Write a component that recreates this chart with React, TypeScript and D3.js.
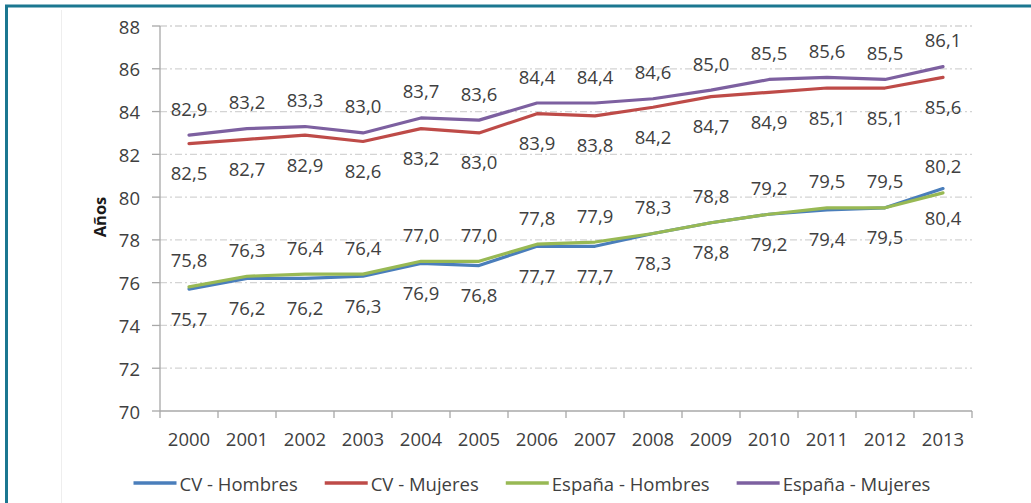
import React from "react";
import * as d3 from "d3";

// Esperanza de vida al nacer, Comunitat Valenciana vs. España (2000-2013)
const years = [
  "2000", "2001", "2002", "2003", "2004", "2005", "2006",
  "2007", "2008", "2009", "2010", "2011", "2012", "2013",
];

const cvHombres = [75.7, 76.2, 76.2, 76.3, 76.9, 76.8, 77.7, 77.7, 78.3, 78.8, 79.2, 79.4, 79.5, 80.4];
const cvMujeres = [82.5, 82.7, 82.9, 82.6, 83.2, 83.0, 83.9, 83.8, 84.2, 84.7, 84.9, 85.1, 85.1, 85.6];
const espanaHombres = [75.8, 76.3, 76.4, 76.4, 77.0, 77.0, 77.8, 77.9, 78.3, 78.8, 79.2, 79.5, 79.5, 80.2];
const espanaMujeres = [82.9, 83.2, 83.3, 83.0, 83.7, 83.6, 84.4, 84.4, 84.6, 85.0, 85.5, 85.6, 85.5, 86.1];

const yTicks = [70, 72, 74, 76, 78, 80, 82, 84, 86, 88];

const seriesNames = ["CV - Hombres", "CV - Mujeres", "España - Hombres", "España - Mujeres"];
const seriesValues = [cvHombres, cvMujeres, espanaHombres, espanaMujeres];
const seriesColors = ["#4a7ebb", "#be4b48", "#98b954", "#7d60a0"];
// data labels: CV below the line, España above
const labelSide = ["below", "below", "above", "above"];

const W = 1031;
const H = 503;
const FONT = "'Open Sans', 'Liberation Sans', sans-serif";
const TEXT = "#404040";

const plot = { left: 160, right: 972, top: 26, bottom: 411 };

const x = d3.scaleBand<string>().domain(years).range([plot.left, plot.right]).padding(0);
const y = d3.scaleLinear().domain([70, 88]).range([plot.bottom, plot.top]);
const cx = (yr: string) => (x(yr) as number) + x.bandwidth() / 2;

const fmt = (v: number) => d3.format(".1f")(v).replace(".", ",");

const lineGen = d3
  .line<number>()
  .x((_, i) => cx(years[i]))
  .y((v) => y(v));

// legend layout: swatch + text, items flowing left to right
const legendY = 483;
const legendStart = 133.5;
const swatchW = 43;
const swatchGap = 3;
const itemGap = 27;
const legendFont = 18.5;

function measure(text: string, size: number): number {
  if (typeof document === "undefined") return text.length * size * 0.55;
  const c = document.createElement("canvas").getContext("2d");
  if (!c) return text.length * size * 0.55;
  c.font = `${size}px 'Open Sans'`;
  return c.measureText(text).width;
}

export default function App() {
  let lx = legendStart;
  const legendItems = seriesNames.map((name, i) => {
    const x0 = lx;
    const tw = measure(name, legendFont);
    lx = x0 + swatchW + swatchGap + tw + itemGap;
    return { name, color: seriesColors[i], x0 };
  });

  return (
    <svg
      width={W}
      height={H}
      viewBox={`0 0 ${W} ${H}`}
      style={{ position: "absolute", left: 0, top: 0, background: "#ffffff" }}
      fontFamily={FONT}
    >
      {/* outer frame */}
      <rect x={0} y={0} width={W} height={H} fill="#ffffff" />
      <line x1={6.5} x2={6.5} y1={5} y2={H} stroke="#1b7790" strokeWidth={3} />
      <line x1={5} x2={W} y1={6} y2={6} stroke="#1b7790" strokeWidth={3} />
      <line x1={61.5} x2={61.5} y1={10} y2={H} stroke="#eeeeee" strokeWidth={1} />

      {/* gridlines */}
      {yTicks.slice(1).map((t) => (
        <line
          key={`g${t}`}
          x1={plot.left}
          x2={plot.right}
          y1={y(t)}
          y2={y(t)}
          stroke="#d4d4d4"
          strokeWidth={1.3}
          strokeDasharray="7,3,2,3"
        />
      ))}

      {/* y axis */}
      <line x1={plot.left} x2={plot.left} y1={plot.top} y2={plot.bottom} stroke="#a8a8a8" strokeWidth={1.3} />
      {yTicks.map((t) => (
        <g key={`yt${t}`}>
          <line x1={plot.left - 8} x2={plot.left} y1={y(t)} y2={y(t)} stroke="#a8a8a8" strokeWidth={1.3} />
          <text
            x={140}
            y={y(t)}
            textAnchor="end"
            dominantBaseline="central"
            fontSize={18.5}
            fill={TEXT}
          >
            {t}
          </text>
        </g>
      ))}

      {/* x axis */}
      <line x1={plot.left} x2={plot.right} y1={plot.bottom} y2={plot.bottom} stroke="#a8a8a8" strokeWidth={1.3} />
      {years.map((yr) => (
        <line
          key={`xt${yr}`}
          x1={x(yr) as number}
          x2={x(yr) as number}
          y1={plot.bottom}
          y2={plot.bottom + 7}
          stroke="#a8a8a8"
          strokeWidth={1.3}
        />
      ))}
      <line x1={plot.right} x2={plot.right} y1={plot.bottom} y2={plot.bottom + 7} stroke="#a8a8a8" strokeWidth={1.3} />
      {years.map((yr) => (
        <text
          key={`xl${yr}`}
          x={cx(yr)}
          y={438}
          textAnchor="middle"
          dominantBaseline="central"
          fontSize={18.5}
          fill={TEXT}
        >
          {yr}
        </text>
      ))}

      {/* axis title */}
      <text
        transform={`translate(99,217) rotate(-90)`}
        textAnchor="middle"
        dominantBaseline="central"
        fontSize={16.5}
        fontWeight="bold"
        fill="#1a1a1a"
      >
        Años
      </text>

      {/* series lines */}
      {seriesValues.map((vals, i) => (
        <path
          key={`s${i}`}
          d={lineGen(vals) as string}
          fill="none"
          stroke={seriesColors[i]}
          strokeWidth={3.2}
          strokeLinejoin="round"
          strokeLinecap="round"
        />
      ))}

      {/* data labels */}
      {seriesValues.map((vals, i) =>
        vals.map((v, j) => (
          <text
            key={`l${i}-${j}`}
            x={cx(years[j])}
            y={y(v) + (labelSide[i] === "above" ? -27 : 29)}
            textAnchor="middle"
            dominantBaseline="central"
            fontSize={18.5}
            fill={TEXT}
          >
            {fmt(v)}
          </text>
        ))
      )}

      {/* legend */}
      {legendItems.map((it) => (
        <g key={it.name}>
          <line
            x1={it.x0}
            x2={it.x0 + swatchW}
            y1={legendY}
            y2={legendY}
            stroke={it.color}
            strokeWidth={3.5}
          />
          <text
            x={it.x0 + swatchW + swatchGap}
            y={legendY}
            dominantBaseline="central"
            fontSize={legendFont}
            fill={TEXT}
          >
            {it.name}
          </text>
        </g>
      ))}
    </svg>
  );
}
